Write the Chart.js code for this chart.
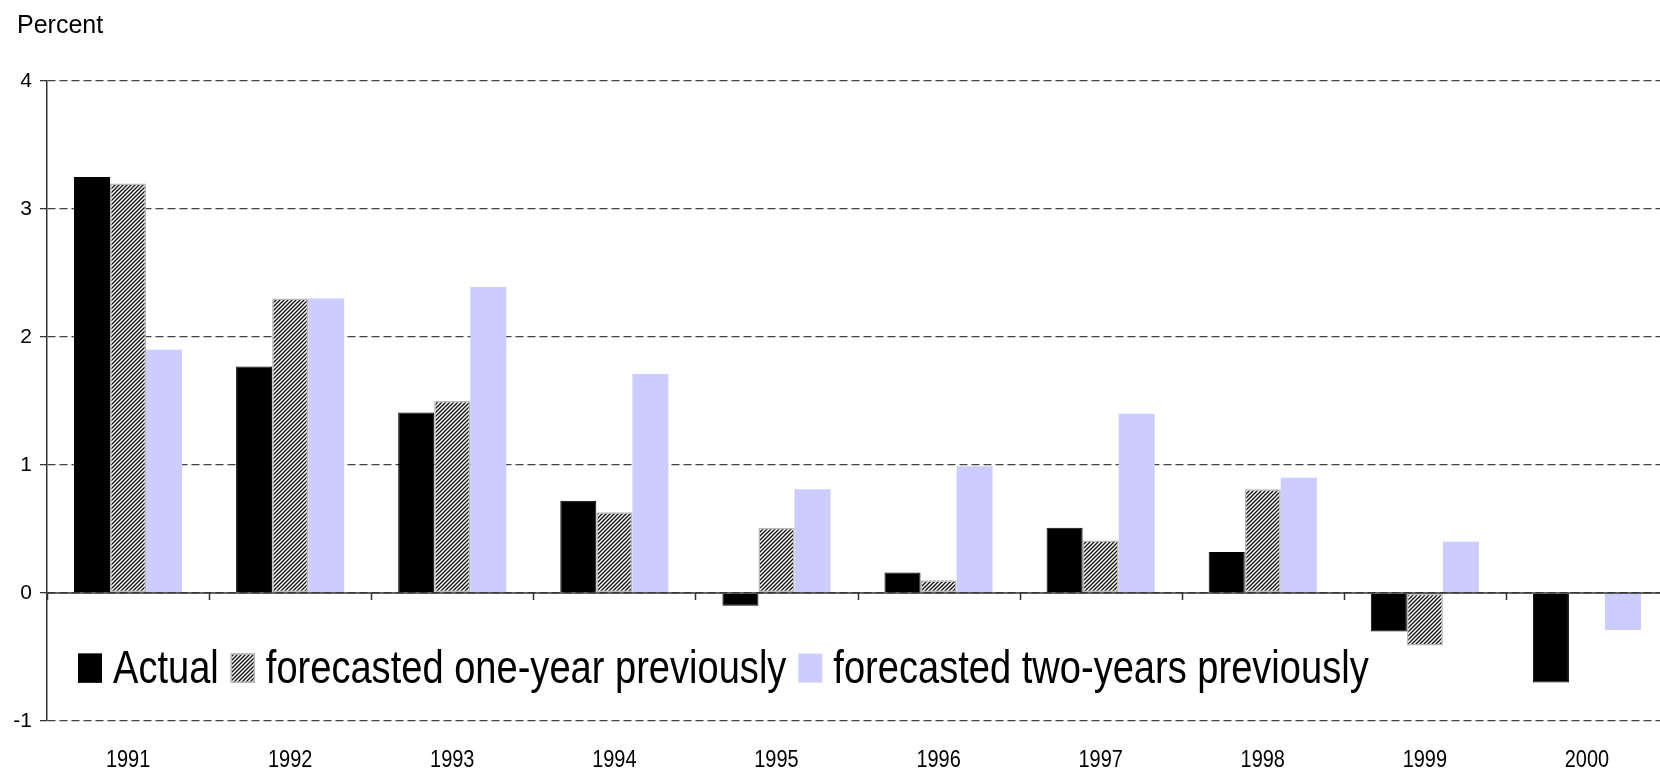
<!DOCTYPE html>
<html>
<head>
<meta charset="utf-8">
<script src="https://cdn.jsdelivr.net/npm/chart.js@4/dist/chart.umd.min.js"></script>
<style>
  html, body { margin: 0; padding: 0; background: #fff; overflow: hidden; }
  #wrap { width: 1668px; height: 769px; position: relative; }
</style>
</head>
<body>
<div id="wrap"><canvas id="chart"></canvas></div>
<script>
// podaci
const years = ['1991', '1992', '1993', '1994', '1995', '1996', '1997', '1998', '1999', '2000'];
const actual = [3.25, 1.77, 1.41, 0.72, -0.1, 0.16, 0.51, 0.32, -0.3, -0.7];
const oneYearBefore = [3.2, 2.3, 1.5, 0.63, 0.51, 0.1, 0.41, 0.81, -0.41, null];
const twoYearsBefore = [1.9, 2.3, 2.39, 1.71, 0.81, 0.99, 1.4, 0.9, 0.4, -0.29];
const seriesNames = ['Actual', 'forecasted one-year previously', 'forecasted two-years previously'];
const yMin = -1, yMax = 4, yStep = 1;

const sans = '"Liberation Sans", Arial, sans-serif';

// uzorak za srafuru
function makeHatch() {
  const c = document.createElement('canvas');
  c.width = 4; c.height = 4;
  const g = c.getContext('2d');
  g.fillStyle = '#fff';
  g.fillRect(0, 0, 4, 4);
  g.strokeStyle = '#111';
  g.lineWidth = 1.3;
  g.beginPath();
  g.moveTo(-1, 5); g.lineTo(5, -1);
  g.moveTo(-1, 1); g.lineTo(1, -1);
  g.moveTo(3, 5); g.lineTo(5, 3);
  g.stroke();
  return g.createPattern(c, 'repeat');
}
const hatch = makeHatch();

// suzeni tekst (original je uzak)
function narrowText(ctx, text, x, y, sx, align) {
  const w = ctx.measureText(text).width * sx;
  const left = align === 'center' ? x - w / 2 : x;
  ctx.save();
  ctx.translate(left, y);
  ctx.scale(sx, 1);
  ctx.fillText(text, 0, 0);
  ctx.restore();
  return w;
}

// nulta linija, oznake, godine i legenda
const extras = {
  id: 'extras',
  afterDatasetsDraw(chart) {
    const ctx = chart.ctx;
    const xs = chart.scales.x, ys = chart.scales.y;
    const area = chart.chartArea;
    const y0 = ys.getPixelForValue(0);
    ctx.save();
    ctx.strokeStyle = '#333';
    ctx.lineWidth = 1.5;
    ctx.beginPath();
    ctx.moveTo(area.left, y0);
    ctx.lineTo(area.right, y0);
    for (let i = 0; i <= years.length; i++) {
      const x = Math.round(xs.getPixelForValue(i - 0.5)) + 0.5;
      ctx.moveTo(x, y0);
      ctx.lineTo(x, y0 + 7);
    }
    ctx.stroke();

    // godine ispod osi
    ctx.fillStyle = '#000';
    ctx.textBaseline = 'alphabetic';
    ctx.font = '24px ' + sans;
    chart.data.labels.forEach((lab, i) => {
      narrowText(ctx, lab, xs.getPixelForValue(i), area.bottom + 46, 0.83, 'center');
    });

    // legenda
    const base = ys.getPixelForValue(-0.7);
    let x = area.left + 31;
    ctx.font = '47px ' + sans;
    chart.data.datasets.forEach(ds => {
      ctx.fillStyle = ds.backgroundColor;
      ctx.fillRect(x, base - 29, 24, 29);
      if (ds.borderWidth) {
        ctx.strokeStyle = ds.borderColor;
        ctx.lineWidth = ds.borderWidth;
        ctx.strokeRect(x + 0.5, base - 28.5, 23, 28);
      }
      x += 35;
      ctx.fillStyle = '#000';
      x += narrowText(ctx, ds.label, x, base, 0.81) + 12;
    });

    ctx.font = '25px ' + sans;
    ctx.fillStyle = '#000';
    ctx.fillText('Percent', 17, 33);
    ctx.restore();
  }
};

new Chart(document.getElementById('chart'), {
  type: 'bar',
  data: {
    labels: years,
    datasets: [
      { label: seriesNames[0], data: actual, backgroundColor: '#000', borderColor: '#000', borderWidth: 1 },
      { label: seriesNames[1], data: oneYearBefore, backgroundColor: hatch, borderColor: '#b8b8b8', borderWidth: 1.5, borderSkipped: false },
      { label: seriesNames[2], data: twoYearsBefore, backgroundColor: '#ccccff', borderWidth: 0 }
    ]
  },
  options: {
    responsive: true,
    maintainAspectRatio: false,
    animation: false,
    datasets: { bar: { barPercentage: 1, categoryPercentage: 0.667 } },
    layout: { padding: { top: 81, right: 0, bottom: 0, left: 0 } },
    plugins: { legend: { display: false }, tooltip: { enabled: false } },
    scales: {
      x: {
        grid: { display: false, drawTicks: false },
        border: { display: false },
        ticks: { display: false },
        afterFit(s) { s.height = 48; }
      },
      y: {
        min: yMin, max: yMax,
        ticks: { stepSize: yStep, color: '#000', font: { family: sans, size: 21 }, padding: 8 },
        grid: { color: '#444', lineWidth: 1.3, tickLength: 7, tickColor: '#333', tickBorderDash: [] },
        border: { display: true, color: '#333', width: 1.5, dash: [8, 4] },
        afterFit(s) { s.width = 47; }
      }
    }
  },
  plugins: [extras]
});
</script>
</body>
</html>
